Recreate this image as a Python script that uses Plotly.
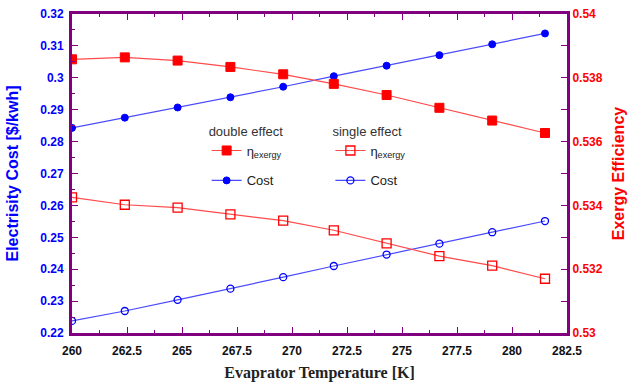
import plotly.graph_objects as go

# ---- data ----
temperature = [260.0, 262.4, 264.8, 267.2, 269.6, 271.9, 274.3, 276.7, 279.1, 281.5]
cost_double = [0.2843, 0.2875, 0.2907, 0.2939, 0.2972, 0.3005, 0.3038, 0.3071, 0.3105, 0.3139]
cost_single = [0.2238, 0.2269, 0.2304, 0.2339, 0.2375, 0.2410, 0.2446, 0.2480, 0.2516, 0.2551]
eta_double = [0.53858, 0.53864, 0.53854, 0.53834, 0.53811, 0.53781, 0.53746, 0.53706, 0.53666, 0.53627]
eta_single = [0.53425, 0.53402, 0.53393, 0.53372, 0.53352, 0.53322, 0.53281, 0.53241, 0.53211, 0.53170]

x_tickvals = [260, 262.5, 265, 267.5, 270, 272.5, 275, 277.5, 280, 282.5]
x_ticktext = ["260", "262.5", "265", "267.5", "270", "272.5", "275", "277.5", "280", "282.5"]
y1_tickvals = [0.22, 0.23, 0.24, 0.25, 0.26, 0.27, 0.28, 0.29, 0.30, 0.31, 0.32]
y1_ticktext = ["0.22", "0.23", "0.24", "0.25", "0.26", "0.27", "0.28", "0.29", "0.3", "0.31", "0.32"]
y2_tickvals = [0.530, 0.532, 0.534, 0.536, 0.538, 0.540]
y2_ticktext = ["0.53", "0.532", "0.534", "0.536", "0.538", "0.54"]

PURPLE = "#800080"
RED = "#ff0000"
BLUE = "#0000ff"
RED_LINE = "#ff4a4a"
BLUE_LINE = "#4a4aff"

fig = go.Figure()

fig.add_trace(go.Scatter(
    x=temperature, y=eta_double, yaxis="y2", name="η<sub>exergy</sub>",
    mode="lines+markers", line=dict(color=RED_LINE, width=1.2),
    marker=dict(symbol="square", size=9, color=RED, line=dict(color=RED, width=1)),
    legend="legend", legendgroup="a"))
fig.add_trace(go.Scatter(
    x=temperature, y=cost_double, yaxis="y", name="Cost",
    mode="lines+markers", line=dict(color=BLUE_LINE, width=1.2),
    marker=dict(symbol="circle", size=7, color=BLUE, line=dict(color=BLUE, width=1)),
    legend="legend", legendgroup="b"))
fig.add_trace(go.Scatter(
    x=temperature, y=eta_single, yaxis="y2", name="η<sub>exergy</sub>",
    mode="lines+markers", line=dict(color=RED_LINE, width=1.2),
    marker=dict(symbol="square-open", size=9, color=RED, line=dict(color=RED, width=1.3)),
    legend="legend2", legendgroup="c"))
fig.add_trace(go.Scatter(
    x=temperature, y=cost_single, yaxis="y", name="Cost",
    mode="lines+markers", line=dict(color=BLUE_LINE, width=1.2),
    marker=dict(symbol="circle-open", size=7, color=BLUE, line=dict(color=BLUE, width=1.3)),
    legend="legend2", legendgroup="d"))

fig.update_layout(
    width=638, height=385,
    margin=dict(l=72, r=71, t=14, b=52),
    paper_bgcolor="white", plot_bgcolor="white",
    font=dict(family="Liberation Sans", size=13, color="black"),
    xaxis=dict(
        range=[260, 282.5], tickvals=x_tickvals, ticktext=x_ticktext,
        ticks="inside", ticklen=6, tickwidth=1, tickcolor=PURPLE,
        minor=dict(ticks="inside", ticklen=3, tickcolor=PURPLE, dtick=1.25, tick0=260),
        showline=True, linewidth=3, linecolor=PURPLE, mirror="ticks",
        showgrid=False, zeroline=False, automargin=False, ticklabeloverflow="allow",
        ticklabelstandoff=5,
        tickfont=dict(family="Liberation Sans", size=12, color="#111111", weight="bold"),
        title=dict(text="Evaprator Temperature [K]", standoff=10,
                   font=dict(family="Liberation Serif", size=16, color="#222222", weight="bold")),
    ),
    yaxis=dict(
        range=[0.22, 0.32], tickvals=y1_tickvals, ticktext=y1_ticktext,
        ticks="inside", ticklen=6, tickwidth=1, tickcolor=PURPLE,
        minor=dict(ticks="inside", ticklen=3, tickcolor=PURPLE, dtick=0.005, tick0=0.22),
        showline=True, linewidth=3, linecolor=PURPLE,
        showgrid=False, zeroline=False, ticklabelstandoff=3, automargin=False,
        ticklabeloverflow="allow",
        tickfont=dict(family="Liberation Sans", size=12, color=BLUE, weight="bold"),
        title=dict(text="Electrisity Cost [$/kwh]", standoff=18,
                   font=dict(family="Liberation Sans", size=16, color=BLUE, weight="bold")),
    ),
    yaxis2=dict(
        range=[0.53, 0.54], tickvals=y2_tickvals, ticktext=y2_ticktext,
        overlaying="y", side="right", anchor="x",
        ticks="inside", ticklen=6, tickwidth=1, tickcolor=PURPLE,
        minor=dict(ticks="inside", ticklen=6, tickcolor=PURPLE, dtick=0.001, tick0=0.53),
        showline=True, linewidth=3, linecolor=PURPLE,
        showgrid=False, zeroline=False, automargin=False, ticklabeloverflow="allow",
        tickfont=dict(family="Liberation Sans", size=12, color=RED, weight="bold"),
        title=dict(text="Exergy Efficiency", standoff=12,
                   font=dict(family="Liberation Sans", size=16, color=RED, weight="bold")),
    ),
    legend=dict(
        x=0.272, y=0.672, xanchor="left", yanchor="top",
        bgcolor="rgba(0,0,0,0)", borderwidth=0,
        title=dict(text="double effect", side="top",
                   font=dict(family="Liberation Sans", size=13, color="#333333")),
        font=dict(family="Liberation Sans", size=13, color="#222222"),
        tracegroupgap=10, traceorder="grouped",
    ),
    legend2=dict(
        x=0.522, y=0.672, xanchor="left", yanchor="top",
        bgcolor="rgba(0,0,0,0)", borderwidth=0,
        title=dict(text="single effect", side="top",
                   font=dict(family="Liberation Sans", size=13, color="#333333")),
        font=dict(family="Liberation Sans", size=13, color="#222222"),
        tracegroupgap=10, traceorder="grouped",
    ),
)

fig.write_html(
    "out.html",
    config={"displayModeBar": False},
    post_script="document.body.style.margin='0';document.body.style.overflow='hidden';",
)
